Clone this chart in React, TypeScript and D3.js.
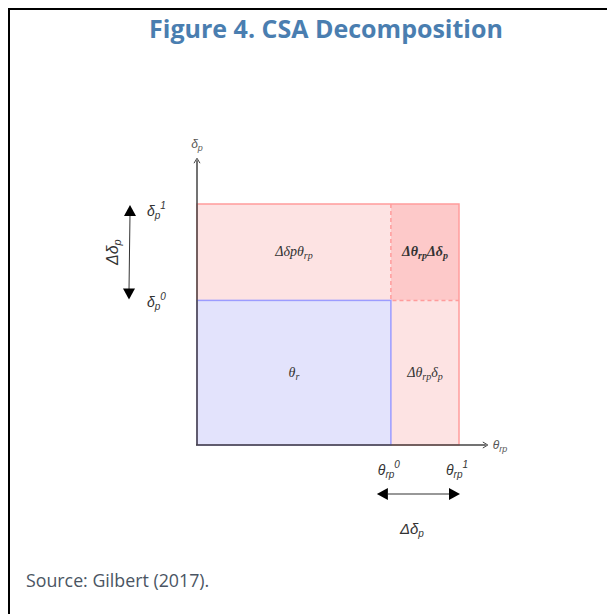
import React from "react";
import * as d3 from "d3";

// abstract levels of the decomposition (share of axis length)
const thetaLevels = [0, 0.74, 1.0]; // 0, theta_rp^0, theta_rp^1
const deltaLevels = [0, 0.6, 1.0]; // 0, delta_p^0, delta_p^1
const axisMax = { x: 1.11, y: 1.19 };

const regions = [
  { key: "base", x0: 0, x1: 1, y0: 0, y1: 1, fill: "#e3e3fc", label: ["θ", "r", ""] },
  { key: "top", x0: 0, x1: 1, y0: 1, y1: 2, fill: "#fde3e3", label: ["Δδpθ", "rp", ""] },
  { key: "right", x0: 1, x1: 2, y0: 0, y1: 1, fill: "#fde3e3", label: ["Δθ", "rp", "δp"] },
  { key: "corner", x0: 1, x1: 2, y0: 1, y1: 2, fill: "#fdc9c9", label: ["Δθ", "rp", "Δδp"] },
];

const W = 607;
const H = 614;

export default function App() {
  const x = d3.scaleLinear().domain([0, 1]).range([197, 459]);
  const y = d3.scaleLinear().domain([0, 1]).range([445, 204]);
  const math = "'Liberation Serif', 'Times New Roman', serif";
  const sans = "'Liberation Sans', Arial, sans-serif";
  const ink = "#333";

  const tri = (cx: number, cy: number, dir: string) => {
    const s = 6;
    const l = 11;
    if (dir === "up") return `M${cx},${cy} L${cx - s},${cy + l} L${cx + s},${cy + l}Z`;
    if (dir === "down") return `M${cx},${cy} L${cx - s},${cy - l} L${cx + s},${cy - l}Z`;
    if (dir === "left") return `M${cx},${cy} L${cx + l},${cy - s} L${cx + l},${cy + s}Z`;
    return `M${cx},${cy} L${cx - l},${cy - s} L${cx - l},${cy + s}Z`;
  };

  const outer = { x0: x(0), x1: x(thetaLevels[2]), y0: y(deltaLevels[2]), y1: y(0) };

  return (
    <svg width={W} height={H} style={{ position: "absolute", left: 0, top: 0, background: "#fff" }}>
      {/* frame */}
      <line x1={9} x2={W} y1={9} y2={9} stroke="#000" strokeWidth={2} />
      <line x1={9} x2={9} y1={8} y2={H} stroke="#000" strokeWidth={2} />
      <text x={326} y={38} textAnchor="middle" fontFamily="'Open Sans', sans-serif" fontWeight={700} fontSize={25} fill="#4a7eb0">
        Figure 4. CSA Decomposition
      </text>

      {regions.map((r) => {
        const rx0 = x(thetaLevels[r.x0]);
        const rx1 = x(thetaLevels[r.x1]);
        const ry0 = y(deltaLevels[r.y1]);
        const ry1 = y(deltaLevels[r.y0]);
        return <rect key={r.key} x={rx0} y={ry0} width={rx1 - rx0} height={ry1 - ry0} fill={r.fill} />;
      })}
      {/* outer pink border */}
      <rect x={outer.x0} y={outer.y0} width={outer.x1 - outer.x0} height={outer.y1 - outer.y0} fill="none" stroke="#ff9c9c" strokeWidth={1.5} />
      {/* dashed corner lines */}
      <path
        d={`M${x(thetaLevels[1])},${y(deltaLevels[2])} V${y(deltaLevels[1])} H${x(thetaLevels[2])}`}
        fill="none"
        stroke="#ff9c9c"
        strokeWidth={1.5}
        strokeDasharray="4,3"
      />
      {/* blue base border */}
      <rect
        x={x(0)}
        y={y(deltaLevels[1])}
        width={x(thetaLevels[1]) - x(0)}
        height={y(0) - y(deltaLevels[1])}
        fill="none"
        stroke="#9c9cff"
        strokeWidth={1.5}
      />

      {/* region labels */}
      {regions.map((r) => {
        const cx = (x(thetaLevels[r.x0]) + x(thetaLevels[r.x1])) / 2;
        const cy = (y(deltaLevels[r.y0]) + y(deltaLevels[r.y1])) / 2;
        const bold = r.key === "corner";
        return (
          <text key={r.key} x={cx} y={cy + 4} textAnchor="middle" fontFamily={math} fontStyle="italic" fontSize={14} fontWeight={bold ? 700 : 400} fill={ink}>
            {r.label[0]}
            <tspan fontSize={10} dy={3}>{r.label[1]}</tspan>
            {r.label[2] ? (
              <tspan dy={-3}>
                {r.label[2].slice(0, -1)}
                <tspan fontSize={10} dy={3}>{r.label[2].slice(-1)}</tspan>
              </tspan>
            ) : null}
          </text>
        );
      })}

      {/* axes */}
      <line x1={x(0)} x2={x(0)} y1={y(0)} y2={y(axisMax.y) + 2} stroke="#444" strokeWidth={1.5} />
      <line x1={x(0) - 1} x2={x(axisMax.x) - 2} y1={y(0)} y2={y(0)} stroke="#444" strokeWidth={1.5} />
      <path d={`M${x(0) - 3},${y(axisMax.y) + 5} L${x(0)},${y(axisMax.y)} L${x(0) + 3},${y(axisMax.y) + 5}`} fill="none" stroke="#444" strokeWidth={1} />
      <path d={`M${x(axisMax.x) - 5},${y(0) - 3} L${x(axisMax.x)},${y(0)} L${x(axisMax.x) - 5},${y(0) + 3}`} fill="none" stroke="#444" strokeWidth={1} />
      <text x={x(0)} y={y(axisMax.y) - 10} textAnchor="middle" fontFamily={sans} fontStyle="italic" fontSize={12} fill="#555">
        δ<tspan fontSize={9} dy={3}>p</tspan>
      </text>
      <text x={x(axisMax.x) + 5} y={y(0) + 4} fontFamily={sans} fontStyle="italic" fontSize={12} fill="#555">
        θ<tspan fontSize={9} dy={3}>rp</tspan>
      </text>

      {/* delta_p levels on left */}
      {[deltaLevels[2], deltaLevels[1]].map((d, i) => (
        <text key={i} x={147} y={y(d) + 12 - i * 5} fontFamily={sans} fontStyle="italic" fontSize={14} fill={ink}>
          δ<tspan fontSize={10} dy={3}>p</tspan>
          <tspan fontSize={10} dy={-10}>{i === 0 ? "1" : "0"}</tspan>
        </text>
      ))}
      <line x1={130} x2={129} y1={y(deltaLevels[2]) + 10} y2={y(deltaLevels[1]) - 10} stroke={ink} strokeWidth={1} />
      <path d={tri(130, y(deltaLevels[2]) + 1, "up")} fill="#000" />
      <path d={tri(129, y(deltaLevels[1]) - 1, "down")} fill="#000" />
      <text
        transform={`translate(118,${(y(deltaLevels[2]) + y(deltaLevels[1])) / 2}) rotate(-90)`}
        textAnchor="middle"
        fontFamily={sans}
        fontStyle="italic"
        fontSize={16}
        fill={ink}
      >
        Δδ<tspan fontSize={11} dy={3}>p</tspan>
      </text>

      {/* theta_rp levels below */}
      {[thetaLevels[1], thetaLevels[2]].map((t, i) => (
        <text key={i} x={x(t) - 2} y={y(0) + 30} textAnchor="middle" fontFamily={sans} fontStyle="italic" fontSize={14} fill={ink}>
          θ<tspan fontSize={10} dy={3}>rp</tspan>
          <tspan fontSize={10} dy={-10}>{i === 0 ? "0" : "1"}</tspan>
        </text>
      ))}
      <line x1={x(thetaLevels[1]) - 3} x2={x(thetaLevels[2]) - 2} y1={y(0) + 49} y2={y(0) + 49} stroke={ink} strokeWidth={1.2} />
      <path d={tri(x(thetaLevels[1]) - 14, y(0) + 49, "left")} fill="#000" />
      <path d={tri(x(thetaLevels[2]) + 1, y(0) + 49, "right")} fill="#000" />
      <text x={(x(thetaLevels[1]) + x(thetaLevels[2])) / 2 - 13} y={y(0) + 89} textAnchor="middle" fontFamily={sans} fontStyle="italic" fontSize={15} fill={ink}>
        Δδ<tspan fontSize={10} dy={3}>p</tspan>
      </text>

      <text x={26} y={587} fontFamily="'Open Sans', sans-serif" fontSize={17.8} fill="#4a5563">
        Source: Gilbert (2017).
      </text>
    </svg>
  );
}
